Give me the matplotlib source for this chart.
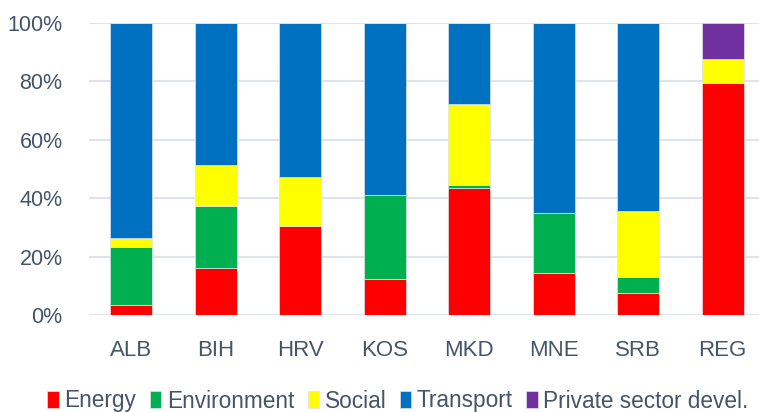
import matplotlib.pyplot as plt
import numpy as np

plt.rcParams['font.family'] = ['Liberation Sans', 'DejaVu Sans']

countries = ['ALB', 'BIH', 'HRV', 'KOS', 'MKD', 'MNE', 'SRB', 'REG']
energy = [3.4, 16.0, 30.6, 12.2, 43.4, 14.3, 7.4, 79.3]
environment = [20.0, 21.4, 0.0, 28.8, 1.1, 20.5, 5.5, 0.0]
social = [3.0, 14.1, 16.8, 0.0, 27.7, 0.0, 22.7, 8.3]
transport = [73.6, 48.5, 52.6, 59.0, 27.8, 65.2, 64.4, 0.0]
private = [0, 0, 0, 0, 0, 0, 0, 12.4]

series = [('Energy', energy, '#FF0000'),
          ('Environment', environment, '#00B050'),
          ('Social', social, '#FFFF00'),
          ('Transport', transport, '#0070C0'),
          ('Private sector devel.', private, '#7030A0')]

txt = '#44546A'

fig = plt.figure(figsize=(7.59, 4.12), dpi=100)
ax = fig.add_axes([89/759, 1 - 315/412, 676/759, 292/412])

x = np.arange(len(countries))
bottom = np.zeros(len(countries))
for name, vals, col in series:
    vals = np.array(vals, dtype=float)
    ax.bar(x, vals, 0.5, bottom=bottom, color=col, label=name,
           edgecolor='#dfe3ea', linewidth=0.5, zorder=3)
    bottom += vals

ax.set_xlim(-0.5, len(countries) - 0.5)
ax.set_ylim(0, 100)
ax.set_yticks([0, 20, 40, 60, 80, 100])
ax.set_yticklabels(['0%', '20%', '40%', '60%', '80%', '100%'])
ax.set_xticks(x)
ax.set_xticklabels(countries)
ax.tick_params(axis='both', length=0, labelcolor=txt)
ax.tick_params(axis='y', pad=19, labelsize=15.5)
ax.tick_params(axis='x', pad=18, labelsize=16)
ax.yaxis.grid(True, color='#dfe3ea', linewidth=1.5, zorder=0)
for s in ax.spines.values():
    s.set_visible(False)

fig.legend(loc='center', bbox_to_anchor=(398/759, 1 - 401/412), ncol=5,
           frameon=False, fontsize=16.3, labelcolor=txt,
           handlelength=0.5, handleheight=0.75, handletextpad=0.25,
           columnspacing=0.6, borderaxespad=0)

fig.savefig('out.png', dpi=100)
